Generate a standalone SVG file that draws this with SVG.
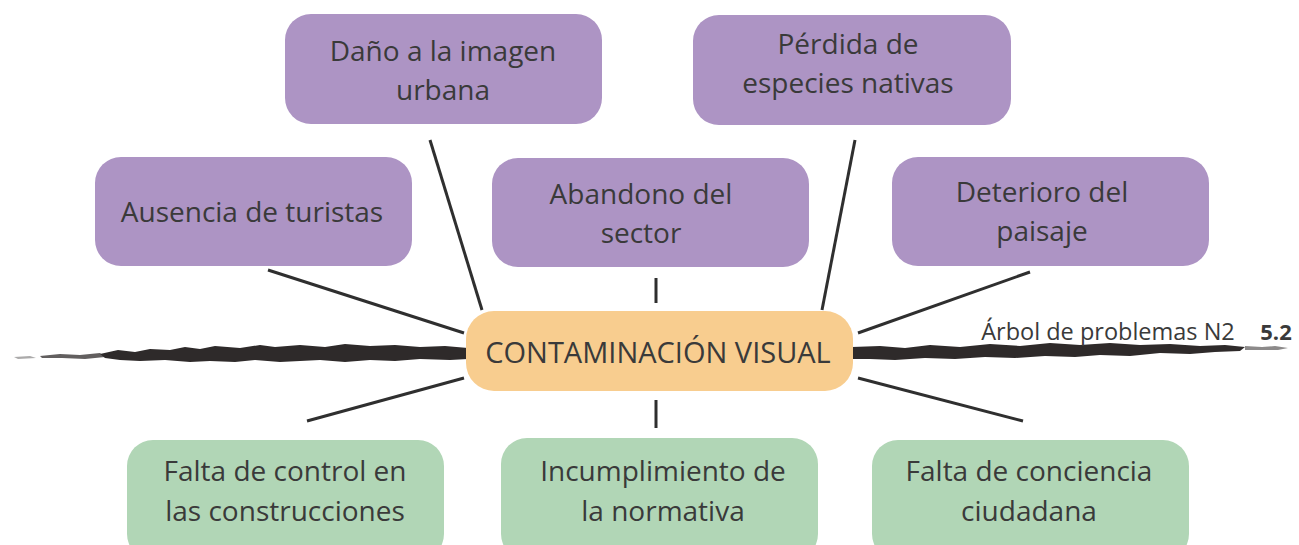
<svg xmlns="http://www.w3.org/2000/svg" width="1299" height="545" viewBox="0 0 1299 545">
<style>
.box{stroke:none}
.eff{fill:#ad94c4}
.cau{fill:#b1d6b6}
.core{fill:#f8cd8f}
.t{font-family:"Open Sans","Noto Sans",sans-serif;font-size:28px;fill:#3a3a3a;text-anchor:middle}
.c{stroke:#2f2f2f;stroke-width:3;fill:none}
.brush{fill:#2e2a2a}
</style>
<rect width="1299" height="545" fill="#ffffff"/>
<g id="brush">
<path class="brush" d="M100,354 L118,350 L135,352 L150,349 L170,350 L185,347 L200,349 L215,346 L240,348 L260,345 L275,347 L300,345 L325,347 L345,344 L370,346 L395,345 L420,347 L445,346 L468,348 L468,359 L450,360 L420,359 L395,361 L370,360 L345,362 L320,360 L300,361 L280,362 L255,360 L235,362 L210,361 L190,362 L165,360 L140,361 L120,360 L105,358 Z"/>
<path class="brush" d="M40,356 L60,354 L80,355 L100,353 L105,357 L85,359 L62,358 L42,358 Z" opacity="0.75"/>
<path class="brush" d="M14,357 L30,356 L36,358 L18,359 Z" opacity="0.4"/>
<path class="brush" d="M852,347 L880,346 L905,348 L930,345 L960,347 L990,344 L1020,346 L1050,343 L1080,345 L1110,343 L1140,345 L1170,344 L1200,346 L1225,345 L1245,347 L1240,351 L1215,352 L1190,354 L1160,353 L1130,356 L1100,355 L1075,357 L1045,356 L1015,358 L985,357 L955,359 L925,358 L895,360 L870,359 L852,359 Z"/>
<path class="brush" d="M1245,346 L1262,347 L1275,346 L1288,348 L1278,350 L1260,350 L1245,350 Z" opacity="0.55"/>
</g>
<g id="connectors">
<line class="c" x1="430" y1="140" x2="482" y2="310"/>
<line class="c" x1="855" y1="140" x2="822" y2="310"/>
<line class="c" x1="268" y1="270" x2="464" y2="333"/>
<line class="c" x1="656" y1="278" x2="656" y2="303"/>
<line class="c" x1="1030" y1="272" x2="858" y2="333"/>
<line class="c" x1="464" y1="378" x2="307" y2="421"/>
<line class="c" x1="656" y1="400" x2="656" y2="428"/>
<line class="c" x1="858" y1="378" x2="1023" y2="421"/>
</g>
<g id="n-dano">
<rect class="box eff" x="285" y="14" width="317" height="110" rx="26"/>
<text class="t" x="443" y="61">Daño a la imagen</text>
<text class="t" x="443" y="100">urbana</text>
</g>
<g id="n-perdida">
<rect class="box eff" x="693" y="15" width="318" height="110" rx="26"/>
<text class="t" x="848" y="54">Pérdida de</text>
<text class="t" x="848" y="93">especies nativas</text>
</g>
<g id="n-ausencia">
<rect class="box eff" x="95" y="157" width="317" height="109" rx="26"/>
<text class="t" x="252" y="222">Ausencia de turistas</text>
</g>
<g id="n-abandono">
<rect class="box eff" x="492" y="158" width="317" height="109" rx="26"/>
<text class="t" x="641" y="204">Abandono del</text>
<text class="t" x="641" y="243">sector</text>
</g>
<g id="n-deterioro">
<rect class="box eff" x="892" y="157" width="317" height="109" rx="26"/>
<text class="t" x="1042" y="202">Deterioro del</text>
<text class="t" x="1042" y="241">paisaje</text>
</g>
<g id="n-core">
<rect class="box core" x="466" y="311" width="387" height="80" rx="28"/>
<text class="t" x="658" y="363" style="font-size:29px">CONTAMINACIÓN VISUAL</text>
</g>
<g id="n-falta-control">
<rect class="box cau" x="127" y="440" width="317" height="120" rx="26"/>
<text class="t" x="285" y="481">Falta de control en</text>
<text class="t" x="285" y="521">las construcciones</text>
</g>
<g id="n-incumplimiento">
<rect class="box cau" x="501" y="438" width="317" height="122" rx="26"/>
<text class="t" x="663" y="481">Incumplimiento de</text>
<text class="t" x="663" y="521">la normativa</text>
</g>
<g id="n-falta-conciencia">
<rect class="box cau" x="872" y="440" width="317" height="120" rx="26"/>
<text class="t" x="1029" y="481">Falta de conciencia</text>
<text class="t" x="1029" y="521">ciudadana</text>
</g>
<g id="header">
<text x="1108" y="340" style="font-family:'Open Sans','Noto Sans',sans-serif;font-size:23.5px;fill:#3a3a3a;text-anchor:middle">Árbol de problemas N2</text>
<text x="1276" y="340" style="font-family:'Open Sans','Noto Sans',sans-serif;font-size:22px;font-weight:bold;fill:#3a3a3a;text-anchor:middle">5.2</text>
</g>
</svg>
